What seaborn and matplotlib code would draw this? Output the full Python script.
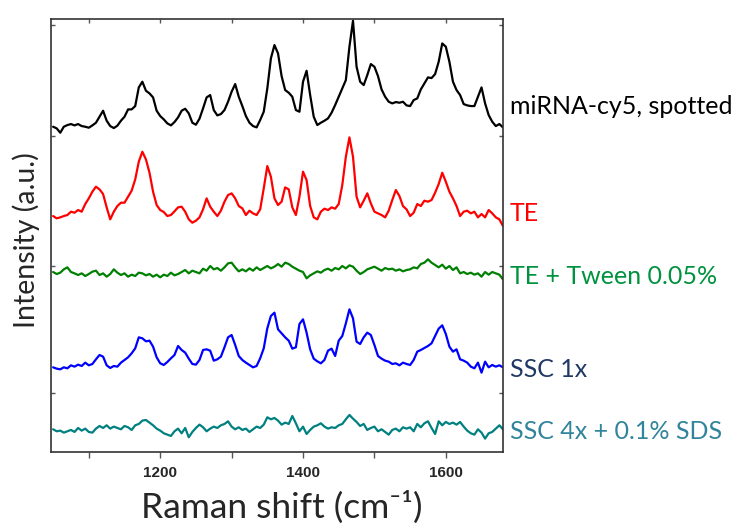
import numpy as np
import pandas as pd
import seaborn as sns
import matplotlib.pyplot as plt

# ---- Data (Raman spectra, a.u., sampled every 5 cm-1 from 1050) ----
X_START = 1050
X_STEP = 5

spotted = [20, 15, 2, 20, 25, 28, 24, 28, 22, 20,
           17, 24, 32, 50, 68, 38, 22, 16, 23, 38,
           50, 72, 72, 82, 138, 155, 128, 120, 108, 68,
           52, 42, 30, 24, 34, 48, 68, 74, 60, 32,
           26, 44, 75, 108, 115, 70, 54, 58, 70, 95,
           125, 148, 110, 82, 52, 32, 22, 18, 40, 65,
           135, 225, 265, 240, 172, 130, 122, 110, 70, 65,
           155, 188, 115, 50, 25, 32, 38, 45, 62, 85,
           110, 135, 160, 260, 338, 200, 155, 145, 175, 208,
           200, 172, 132, 110, 95, 90, 94, 92, 95, 84,
           82, 100, 105, 132, 150, 168, 166, 178, 215, 270,
           260, 215, 155, 130, 115, 88, 84, 82, 82, 110,
           138, 90, 55, 35, 22, 28, 18]

te = [32, 25, 28, 32, 35, 45, 42, 50, 45, 68,
      85, 105, 120, 112, 98, 58, 22, 45, 62, 72,
      72, 90, 108, 142, 195, 225, 202, 162, 105, 65,
      50, 44, 32, 35, 46, 58, 60, 45, 22, 12,
      18, 28, 52, 85, 60, 45, 32, 48, 75, 95,
      100, 85, 62, 55, 35, 48, 40, 35, 52, 115,
      182, 150, 85, 65, 75, 118, 112, 58, 35, 90,
      165, 140, 62, 28, 22, 45, 54, 50, 58, 54,
      68, 125, 210, 268, 210, 90, 58, 78, 100, 70,
      45, 40, 35, 28, 48, 80, 110, 92, 62, 52,
      32, 42, 68, 62, 78, 75, 80, 102, 128, 162,
      135, 105, 85, 62, 32, 45, 48, 40, 45, 28,
      38, 28, 50, 40, 28, 22, 2]

te_tween = [34, 28, 32, 42, 48, 34, 30, 25, 30, 22,
            28, 35, 38, 25, 30, 20, 28, 42, 32, 25,
            30, 20, 26, 22, 32, 30, 24, 28, 20, 26,
            18, 26, 22, 32, 24, 28, 34, 40, 30, 38,
            34, 30, 44, 38, 52, 42, 46, 38, 48, 60,
            62, 48, 36, 42, 36, 45, 38, 48, 40, 46,
            52, 45, 50, 58, 50, 62, 58, 50, 44, 38,
            34, 15, 24, 30, 36, 32, 40, 44, 38, 46,
            42, 52, 45, 54, 50, 38, 28, 34, 42, 46,
            50, 44, 38, 46, 42, 44, 38, 42, 36, 40,
            42, 48, 45, 58, 62, 72, 62, 55, 48, 56,
            44, 52, 40, 48, 30, 34, 28, 32, 26, 30,
            20, 34, 26, 34, 30, 26, 12]

ssc1x = [28, 24, 22, 28, 25, 34, 30, 36, 32, 42,
         34, 38, 52, 65, 60, 34, 26, 32, 30, 42,
         50, 58, 70, 85, 118, 115, 106, 108, 90, 58,
         40, 35, 44, 55, 65, 92, 80, 72, 54, 38,
         36, 50, 80, 82, 78, 48, 52, 60, 88, 118,
         125, 95, 62, 50, 42, 35, 28, 32, 55, 85,
         145, 182, 192, 142, 130, 118, 108, 84, 88, 158,
         172, 132, 82, 54, 46, 40, 50, 78, 84, 62,
         108, 122, 160, 202, 175, 105, 98, 118, 132, 125,
         95, 62, 54, 48, 45, 38, 40, 34, 42, 38,
         35, 50, 75, 80, 86, 92, 100, 122, 144, 154,
         128, 90, 75, 82, 52, 48, 42, 30, 25, 42,
         12, 45, 28, 35, 30, 34, 28]

ssc4x_sds = [27, 21, 23, 17, 21, 25, 19, 31, 23, 29,
             19, 17, 29, 37, 31, 39, 29, 35, 31, 27,
             37, 33, 25, 39, 43, 53, 55, 47, 39, 29,
             23, 15, 11, 7, 21, 29, 15, 31, 3, 19,
             31, 41, 33, 21, 29, 35, 31, 39, 43, 51,
             35, 27, 33, 25, 29, 19, 27, 35, 31, 41,
             63, 57, 61, 53, 41, 47, 43, 67, 45, 21,
             35, 13, 25, 35, 39, 45, 35, 29, 33, 31,
             39, 43, 57, 70, 59, 49, 37, 43, 25, 31,
             35, 21, 27, 19, 11, 25, 29, 21, 33, 29,
             33, 21, 43, 33, 45, 51, 31, 13, 51, 39,
             49, 43, 47, 41, 49, 35, 23, 15, 11, 27,
             17, -1, 15, 19, 29, 39, 27]

labels = ["miRNA-cy5, spotted", "TE", "TE + Tween 0.05%", "SSC 1x", "SSC 4x + 0.1% SDS"]
spectra = [spotted, te, te_tween, ssc1x, ssc4x_sds]
offsets = [959, 679, 509, 229, 44]

line_colors = ["#000000", "#ff0000", "#008000", "#0000ff", "#008080"]
text_colors = ["#000000", "#ff0000", "#00923f", "#1f3864", "#31849b"]
label_y = [1039, 718, 529, 250, 64]

# ---- Long-form table ----
frames = []
for name, vals, off in zip(labels, spectra, offsets):
    vals = np.asarray(vals, dtype=float)
    frames.append(pd.DataFrame({
        "shift": X_START + X_STEP * np.arange(len(vals)),
        "intensity": vals + off,
        "sample": name,
    }))
df = pd.concat(frames, ignore_index=True)

# ---- Plot ----
sns.set_style("ticks")
plt.rcParams["font.family"] = ["Lato", "DejaVu Sans"]

fig = plt.figure(figsize=(7.44, 5.25), dpi=100)
ax = fig.add_axes([0.0685, 0.1385, 0.6075, 0.8245])

sns.lineplot(data=df, x="shift", y="intensity", hue="sample",
             palette=dict(zip(labels, line_colors)), estimator=None,
             sort=False, linewidth=1.6, legend=False, ax=ax)

ax.set_xlim(1047, 1680)
ax.set_ylim(2, 1301)

ax.set_xticks([1200, 1400, 1600])
ax.set_xticks([1100, 1300, 1500], minor=True)
ax.set_yticks([180, 560, 950, 1285])
ax.set_yticklabels([])
ax.tick_params(axis="x", which="both", direction="out", length=4, width=1,
               color="#555555", labelsize=11, pad=6, top=False)
ax.tick_params(axis="y", which="both", direction="in", length=3, width=1,
               color="#555555", left=True, right=True)
for lbl in ax.get_xticklabels():
    lbl.set_fontweight("bold")
    lbl.set_family(["Liberation Sans", "DejaVu Sans"])

# inward ticks along the top edge
sec = ax.secondary_xaxis("top")
sec.set_xticks([1100, 1200, 1300, 1400, 1500, 1600])
sec.tick_params(direction="in", length=3, width=1, color="#555555", labeltop=False)
sec.spines["top"].set_visible(False)

for side in ["left", "right", "top", "bottom"]:
    ax.spines[side].set_visible(True)
    ax.spines[side].set_color("#333333")
    ax.spines[side].set_linewidth(1.2)

ax.set_xlabel("Raman shift (cm\u207b\u00b9)", fontsize=25.5, va="baseline")
ax.xaxis.set_label_coords(0.511, -0.152)
ax.set_ylabel("Intensity (a.u.)", fontsize=20.5)
ax.yaxis.set_label_coords(-0.025, 0.49)

for name, col, yy in zip(labels, text_colors, label_y):
    ax.text(1690, yy, name, color=col, fontsize=18, va="center", ha="left",
            clip_on=False)

plt.savefig("out.png", dpi=100)
plt.close()
